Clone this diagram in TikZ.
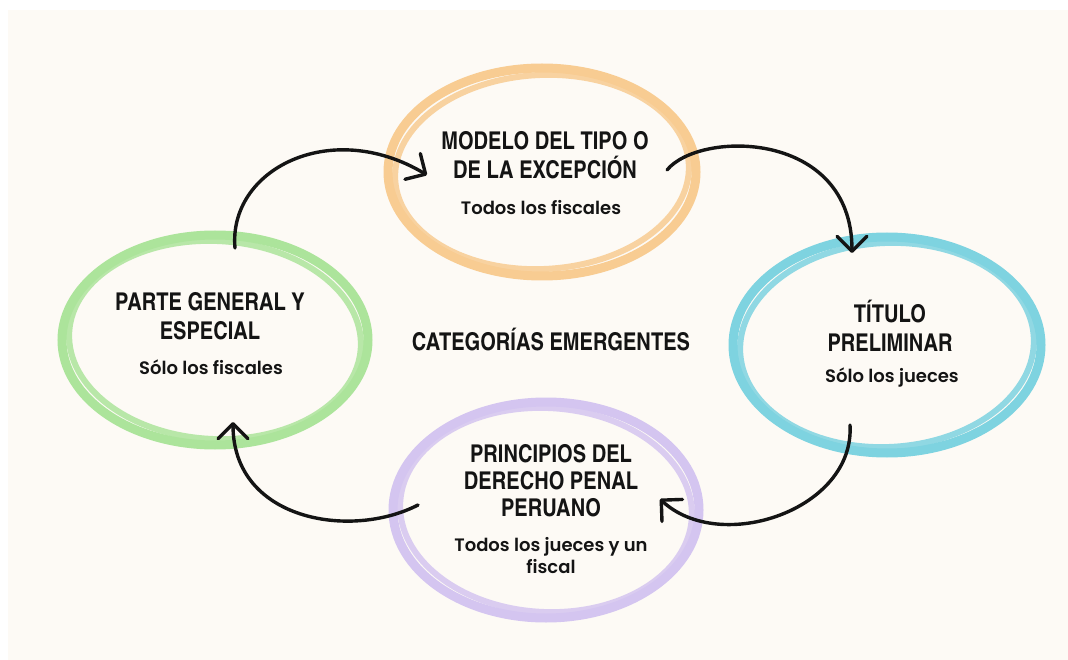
\documentclass[tikz,border=0pt]{standalone}
\usepackage{fontspec}
\setmainfont{Poppins}
\newfontfamily\subfont{Poppins SemiBold}
\newfontfamily\headfont{texgyreheroscn-bold.otf}
\usetikzlibrary{arrows.meta,shapes.geometric}
\definecolor{bgc}{RGB}{253,250,245}
\definecolor{ringO}{RGB}{248,204,146}
\definecolor{ringG}{RGB}{172,228,155}
\definecolor{ringC}{RGB}{126,211,224}
\definecolor{ringP}{RGB}{212,197,240}
\definecolor{ink}{RGB}{20,20,20}
\tikzset{
  ringA/.style={ellipse, draw=#1, line width=9pt, inner sep=0pt},
  ringB/.style={draw=#1, line width=6pt, draw opacity=0.85},
  head/.style={font=\headfont\fontsize{24.5}{29}\selectfont, align=center, text=ink, inner sep=0pt},
  sub/.style={font=\subfont\fontsize{18}{22}\selectfont, align=center, text=ink, inner sep=0pt},
  arr/.style={draw=ink, line width=3.4pt, line cap=round, line join=round,
    -{Straight Barb[round,length=15pt,width=30pt]}}
}
\begin{document}
\begin{tikzpicture}[x=1pt,y=-1pt]
\useasboundingbox (0,0) rectangle (1068,660);
\fill[white] (-5,-5) rectangle (1075,670);
\fill[bgc] (8,10) rectangle (1075,670);

% rings
\node[ringA=ringO, minimum width=308pt, minimum height=208pt] (o) at (542,172) {};
\draw[ringB=ringO, rotate around={3:(o.center)}] (o.center) ellipse [x radius=147pt, y radius=97pt];
\node[ringA=ringG, minimum width=306pt, minimum height=210pt] (g) at (215,340) {};
\draw[ringB=ringG, rotate around={-3:(g.center)}] (g.center) ellipse [x radius=146pt, y radius=99pt];
\node[ringA=ringC, minimum width=308pt, minimum height=216pt] (c) at (887,345) {};
\draw[ringB=ringC, rotate around={3:(c.center)}] (c.center) ellipse [x radius=147pt, y radius=102pt];
\node[ringA=ringP, minimum width=306pt, minimum height=216pt] (p) at (546,510) {};
\draw[ringB=ringP, rotate around={-3:(p.center)}] (p.center) ellipse [x radius=146pt, y radius=102pt];

% texts
\node[head] (ot) at (545,155) {MODELO DEL TIPO O\\DE LA EXCEPCIÓN};
\node[sub] (os) at (541,208) {Todos los fiscales};
\node[head] (gt) at (210,316) {PARTE GENERAL Y\\ESPECIAL};
\node[sub] (gs) at (211,367) {Sólo los fiscales};
\node[head] (ct) at (890,326) {TÍTULO\\PRELIMINAR};
\node[sub] (cs) at (892,378) {Sólo los jueces};
\node[head, font=\headfont\fontsize{24.5}{27}\selectfont] (pt) at (551,481) {PRINCIPIOS DEL\\DERECHO PENAL\\PERUANO};
\node[sub] (ps) at (551,556) {Todos los jueces y un\\fiscal};
\node[head] (mid) at (551,340) {CATEGORÍAS EMERGENTES};

% arrow end points
\coordinate (a1s) at (235,248); \coordinate (a1e) at (427,175);
\coordinate (a2s) at (667,170); \coordinate (a2e) at (852,253);
\coordinate (a3s) at (850,425); \coordinate (a3e) at (660,499);
\coordinate (a4s) at (418,505); \coordinate (a4e) at (233,422);

\draw[arr] (a1s) .. controls (228,170) and (330,117) .. (a1e);
\draw[arr] (a2s) .. controls (700,130) and (852,130) .. (a2e);
\draw[arr] (a3s) .. controls (855,510) and (720,555) .. (a3e);
\draw[arr] (a4s) .. controls (350,540) and (233,520) .. (a4e);
\end{tikzpicture}
\end{document}
